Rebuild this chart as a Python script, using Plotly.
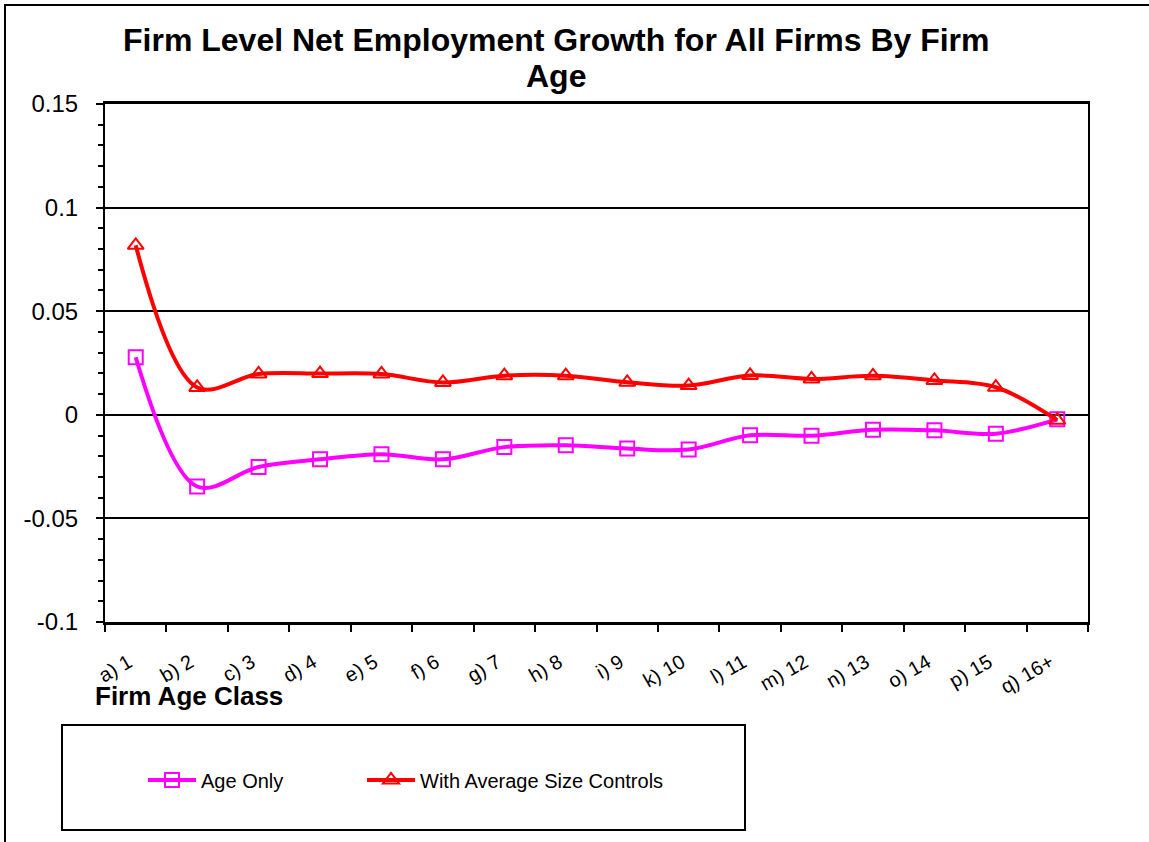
import plotly.graph_objects as go

categories = ["a) 1", "b) 2", "c) 3", "d) 4", "e) 5", "f) 6", "g) 7", "h) 8",
              "i) 9", "k) 10", "l) 11", "m) 12", "n) 13", "o) 14", "p) 15", "q) 16+"]
age_only = [0.0278, -0.0346, -0.0252, -0.0215, -0.0190, -0.0215, -0.0156, -0.0147,
            -0.0163, -0.0168, -0.0099, -0.0101, -0.0072, -0.0075, -0.0091, -0.0022]
with_size = [0.0818, 0.0132, 0.0197, 0.0199, 0.0197, 0.0156, 0.0189, 0.0189,
             0.0157, 0.0141, 0.0190, 0.0173, 0.0188, 0.0166, 0.0133, -0.0026]
y_tickvals = [-0.1, -0.05, 0, 0.05, 0.1, 0.15]
y_ticktext = ["-0.1", "-0.05", "0", "0.05", "0.1", "0.15"]
title_lines = ["Firm Level Net Employment Growth for All Firms By Firm", "Age"]
x_title = "Firm Age Class"

W, H = 1149, 842
L, R, T, B = 105, 1088, 104, 622

def px(x):
    return (x - L) / (R - L)

def py(y):
    return (B - y) / (B - T)

fig = go.Figure()
fig.add_trace(go.Scatter(
    x=categories, y=age_only, name="Age Only", mode="lines+markers",
    line=dict(color="#FF00FF", width=4, shape="spline"),
    marker=dict(symbol="square-open", size=14, color="#FF00FF", line=dict(width=2, color="#FF00FF")),
    legend="legend",
))
fig.add_trace(go.Scatter(
    x=categories, y=with_size, name="With Average Size Controls", mode="lines+markers",
    line=dict(color="#FF0000", width=4, shape="spline"),
    marker=dict(symbol="triangle-up-open", size=14, color="#FF0000", line=dict(width=2, color="#FF0000")),
    legend="legend2",
))

font_family = "Liberation Sans, Arial, sans-serif"

legend_common = dict(
    xanchor="left", yanchor="middle", bgcolor="rgba(0,0,0,0)",
    font=dict(size=20, family=font_family, color="black"), itemwidth=48,
)

fig.update_layout(
    width=W, height=H,
    margin=dict(l=L, r=W - R, t=T, b=H - B, autoexpand=False),
    paper_bgcolor="white", plot_bgcolor="white",
    font=dict(family=font_family, color="black"),
    xaxis=dict(
        type="category", range=[-0.5, 15.5],
        tickson="boundaries", ticks="outside", ticklen=7, tickwidth=1.5, tickcolor="black",
        showline=True, linecolor="black", linewidth=3, mirror=True,
        showgrid=False, tickangle=-30, tickfont=dict(size=20, family=font_family),
        ticklabelstandoff=18, ticklabelshift=-7,
    ),
    yaxis=dict(
        range=[-0.1, 0.15], tickvals=y_tickvals, ticktext=y_ticktext,
        ticks="outside", ticklen=7, tickwidth=1.5, tickcolor="black",
        minor=dict(dtick=0.01, ticks="outside", ticklen=5, tickwidth=1.5, tickcolor="black", showgrid=False),
        showline=True, linecolor="black", linewidth=2, mirror=True,
        showgrid=True, gridcolor="black", gridwidth=1.5,
        zeroline=True, zerolinecolor="black", zerolinewidth=1.5,
        tickfont=dict(size=24, family=font_family), ticklabelstandoff=13,
    ),
    showlegend=True,
    legend=dict(x=px(143), y=py(780), **legend_common),
    legend2=dict(x=px(362), y=py(780), **legend_common),
    shapes=[
        dict(type="rect", xref="paper", yref="paper",
             x0=px(5), x1=px(1170), y0=py(870), y1=py(5),
             line=dict(color="black", width=2), fillcolor="rgba(0,0,0,0)", layer="below"),
        dict(type="rect", xref="paper", yref="paper",
             x0=px(62), x1=px(745), y0=py(830), y1=py(725),
             line=dict(color="black", width=2), fillcolor="rgba(0,0,0,0)", layer="below"),
    ],
    annotations=[
        dict(text="<b>" + title_lines[0] + "</b>", xref="paper", yref="paper",
             x=px(556), y=py(40), xanchor="center", yanchor="middle", showarrow=False,
             font=dict(size=32, family=font_family, color="black")),
        dict(text="<b>" + title_lines[1] + "</b>", xref="paper", yref="paper",
             x=px(556), y=py(76), xanchor="center", yanchor="middle", showarrow=False,
             font=dict(size=32, family=font_family, color="black")),
        dict(text="<b>" + x_title + "</b>", xref="paper", yref="paper",
             x=px(93), y=py(696), xanchor="left", yanchor="middle", showarrow=False,
             font=dict(size=26, family=font_family, color="black")),
    ],
)

fig.write_html("out.html", config={"displayModeBar": False},
               post_script="document.body.style.margin='0';")
